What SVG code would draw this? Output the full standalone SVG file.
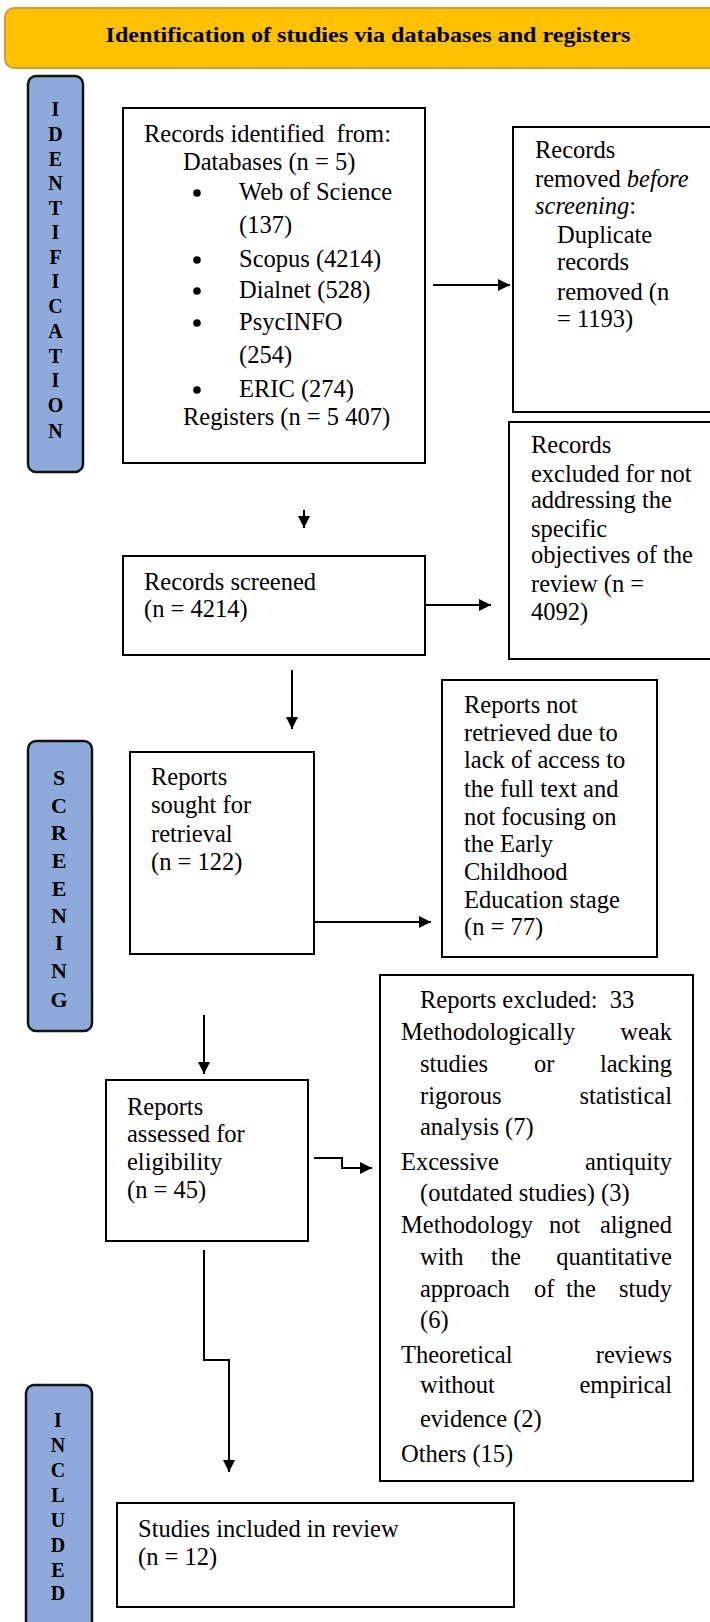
<svg xmlns="http://www.w3.org/2000/svg" width="710" height="1622" viewBox="0 0 710 1622">
<style>
.t{font-family:"Liberation Serif","Times New Roman",serif;font-size:24.5px;fill:#000}
.sl{font-family:"Liberation Serif","Times New Roman",serif;font-weight:bold;fill:#000;text-anchor:middle}
.box{fill:#fff;stroke:#000;stroke-width:2}
.side{fill:#8EAADB;stroke:#111;stroke-width:2.5}
.ln{fill:none;stroke:#000;stroke-width:2}
.i{font-style:italic}
.b{fill:#000}
</style>
<defs>
<marker id="ah" viewBox="0 0 10 10" refX="10" refY="5" markerWidth="6" markerHeight="6" orient="auto" markerUnits="strokeWidth">
<path d="M0,0 L10,5 L0,10 z" fill="#000"/>
</marker>
</defs>
<rect width="710" height="1622" fill="#fff"/>

<g id="header">
<rect x="5" y="8" width="730" height="60" rx="9" fill="#FFC000" stroke="#C9A13A" stroke-width="2"/>
<text x="368" y="42" font-family="Liberation Serif, Times New Roman, serif" font-weight="bold" font-size="22" text-anchor="middle" textLength="525" lengthAdjust="spacingAndGlyphs">Identification of studies via databases and registers</text>
</g>

<g id="side-identification">
<rect class="side" x="28" y="76" width="55" height="396" rx="8"/>
<text class="sl" font-size="20">
<tspan x="55.5" y="116">I</tspan><tspan x="55.5" y="141">D</tspan><tspan x="55.5" y="166">E</tspan><tspan x="55.5" y="190">N</tspan><tspan x="55.5" y="215">T</tspan><tspan x="55.5" y="239">I</tspan><tspan x="55.5" y="264">F</tspan><tspan x="55.5" y="288">I</tspan><tspan x="55.5" y="313">C</tspan><tspan x="55.5" y="338">A</tspan><tspan x="55.5" y="363">T</tspan><tspan x="55.5" y="387">I</tspan><tspan x="55.5" y="412">O</tspan><tspan x="55.5" y="438">N</tspan>
</text>
</g>

<g id="side-screening">
<rect class="side" x="28" y="741" width="64" height="290" rx="8"/>
<text class="sl" font-size="22">
<tspan x="59" y="785">S</tspan><tspan x="59" y="813">C</tspan><tspan x="59" y="840">R</tspan><tspan x="59" y="868">E</tspan><tspan x="59" y="896">E</tspan><tspan x="59" y="923">N</tspan><tspan x="59" y="950">I</tspan><tspan x="59" y="978">N</tspan><tspan x="59" y="1007">G</tspan>
</text>
</g>

<g id="side-included">
<rect class="side" x="26" y="1385" width="66" height="260" rx="8"/>
<text class="sl" font-size="20">
<tspan x="58" y="1427">I</tspan><tspan x="58" y="1452">N</tspan><tspan x="58" y="1477">C</tspan><tspan x="58" y="1502">L</tspan><tspan x="58" y="1527">U</tspan><tspan x="58" y="1552">D</tspan><tspan x="58" y="1577">E</tspan><tspan x="58" y="1600">D</tspan>
</text>
</g>

<g id="records-identified">
<rect class="box" x="123" y="108" width="302" height="355"/>
<text class="t" xml:space="preserve" x="144" y="142">Records identified  from:</text>
<text class="t" x="183" y="170">Databases (n = 5)</text>
<circle class="b" cx="197" cy="193" r="3.8"/>
<text class="t" x="239" y="200">Web of Science</text>
<text class="t" x="239" y="233">(137)</text>
<circle class="b" cx="197" cy="260" r="3.8"/>
<text class="t" x="239" y="267">Scopus (4214)</text>
<circle class="b" cx="197" cy="291" r="3.8"/>
<text class="t" x="239" y="298">Dialnet (528)</text>
<circle class="b" cx="197" cy="323" r="3.8"/>
<text class="t" x="239" y="330">PsycINFO</text>
<text class="t" x="239" y="363">(254)</text>
<circle class="b" cx="197" cy="390" r="3.8"/>
<text class="t" x="239" y="397">ERIC (274)</text>
<text class="t" x="183" y="425">Registers (n = 5 407)</text>
</g>

<g id="records-removed">
<rect class="box" x="513" y="127" width="210" height="285"/>
<text class="t" x="535" y="158">Records</text>
<text class="t" x="535" y="187">removed <tspan class="i">before</tspan></text>
<text class="t" x="535" y="214"><tspan class="i">screening</tspan>:</text>
<text class="t" x="557" y="243">Duplicate</text>
<text class="t" x="557" y="270">records</text>
<text class="t" x="557" y="300">removed (n</text>
<text class="t" x="557" y="327">= 1193)</text>
</g>

<g id="records-screened">
<rect class="box" x="123" y="556" width="302" height="99"/>
<text class="t" x="144" y="590">Records screened</text>
<text class="t" x="144" y="617">(n = 4214)</text>
</g>

<g id="records-excluded">
<rect class="box" x="509" y="422" width="214" height="237"/>
<text class="t" x="531" y="453">Records</text>
<text class="t" x="531" y="482">excluded for not</text>
<text class="t" x="531" y="508">addressing the</text>
<text class="t" x="531" y="537">specific</text>
<text class="t" x="531" y="563">objectives of the</text>
<text class="t" x="531" y="592">review (n =</text>
<text class="t" x="531" y="620">4092)</text>
</g>

<g id="reports-sought">
<rect class="box" x="130" y="752" width="184" height="202"/>
<text class="t" x="151" y="785">Reports</text>
<text class="t" x="151" y="813">sought for</text>
<text class="t" x="151" y="842">retrieval</text>
<text class="t" x="151" y="870">(n = 122)</text>
</g>

<g id="reports-not-retrieved">
<rect class="box" x="442" y="680" width="215" height="277"/>
<text class="t" x="464" y="713">Reports not</text>
<text class="t" x="464" y="741">retrieved due to</text>
<text class="t" x="464" y="768">lack of access to</text>
<text class="t" x="464" y="797">the full text and</text>
<text class="t" x="464" y="825">not focusing on</text>
<text class="t" x="464" y="852">the Early</text>
<text class="t" x="464" y="880">Childhood</text>
<text class="t" x="464" y="908">Education stage</text>
<text class="t" x="464" y="935">(n = 77)</text>
</g>

<g id="reports-assessed">
<rect class="box" x="106" y="1080" width="202" height="161"/>
<text class="t" x="127" y="1115">Reports</text>
<text class="t" x="127" y="1142">assessed for</text>
<text class="t" x="127" y="1170">eligibility</text>
<text class="t" x="127" y="1198">(n = 45)</text>
</g>

<g id="reports-excluded">
<rect class="box" x="380" y="975" width="313" height="506"/>
<text class="t" xml:space="preserve" x="420" y="1008">Reports excluded:  33</text>
<text class="t" x="401" y="1040">Methodologically</text>
<text class="t" x="672" y="1040" text-anchor="end">weak</text>
<text class="t" x="420" y="1072">studies</text>
<text class="t" x="534" y="1072">or</text>
<text class="t" x="672" y="1072" text-anchor="end">lacking</text>
<text class="t" x="420" y="1104">rigorous</text>
<text class="t" x="672" y="1104" text-anchor="end">statistical</text>
<text class="t" x="420" y="1135">analysis (7)</text>
<text class="t" x="401" y="1170">Excessive</text>
<text class="t" x="672" y="1170" text-anchor="end">antiquity</text>
<text class="t" x="420" y="1201">(outdated studies) (3)</text>
<text class="t" x="401" y="1233">Methodology</text>
<text class="t" x="549" y="1233">not</text>
<text class="t" x="672" y="1233" text-anchor="end">aligned</text>
<text class="t" x="420" y="1265">with</text>
<text class="t" x="491" y="1265">the</text>
<text class="t" x="672" y="1265" text-anchor="end">quantitative</text>
<text class="t" x="420" y="1297">approach</text>
<text class="t" x="534" y="1297">of</text>
<text class="t" x="566" y="1297">the</text>
<text class="t" x="672" y="1297" text-anchor="end">study</text>
<text class="t" x="420" y="1328">(6)</text>
<text class="t" x="401" y="1363">Theoretical</text>
<text class="t" x="672" y="1363" text-anchor="end">reviews</text>
<text class="t" x="420" y="1393">without</text>
<text class="t" x="672" y="1393" text-anchor="end">empirical</text>
<text class="t" x="420" y="1427">evidence (2)</text>
<text class="t" x="401" y="1462">Others (15)</text>
</g>

<g id="studies-included">
<rect class="box" x="117" y="1503" width="397" height="104"/>
<text class="t" x="138" y="1537">Studies included in review</text>
<text class="t" x="138" y="1565">(n = 12)</text>
</g>

<g id="connectors">
<line class="ln" x1="433" y1="285" x2="510" y2="285" marker-end="url(#ah)"/>
<line class="ln" x1="304" y1="510" x2="304" y2="528" marker-end="url(#ah)"/>
<line class="ln" x1="425" y1="605" x2="491" y2="605" marker-end="url(#ah)"/>
<line class="ln" x1="292" y1="670" x2="292" y2="729" marker-end="url(#ah)"/>
<line class="ln" x1="314" y1="922" x2="431" y2="922" marker-end="url(#ah)"/>
<line class="ln" x1="204" y1="1015" x2="204" y2="1074" marker-end="url(#ah)"/>
<polyline class="ln" points="314,1158 342,1158 342,1168 372,1168" marker-end="url(#ah)"/>
<polyline class="ln" points="204,1250 204,1360 229,1360 229,1472" marker-end="url(#ah)"/>
</g>
</svg>
